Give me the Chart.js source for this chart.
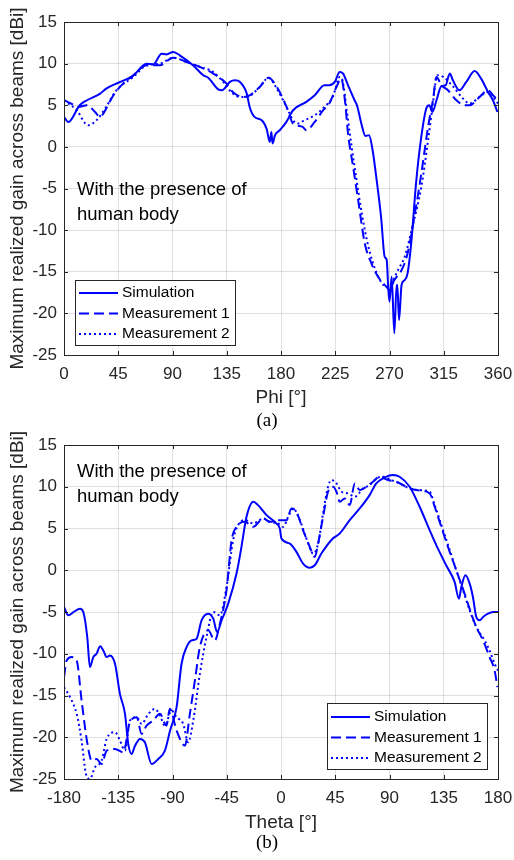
<!DOCTYPE html>
<html>
<head>
<meta charset="utf-8">
<script src="https://cdn.jsdelivr.net/npm/chart.js@4.4.1/dist/chart.umd.min.js"></script>
<style>
  body { margin: 0; background: #fff; }
  canvas { display: block; }
</style>
</head>
<body>
<canvas id="phiChart" width="514" height="430"></canvas>
<canvas id="thetaChart" width="514" height="430"></canvas>
<script>
// (a) gain vs phi
var phiSim = [0,3.6,13,19,30,35,45,57,68.5,74,81,85,90.6,96,107,115.5,119.6,128,131,137.6,141.7,146,151.6,154,158,164,168,170.7,172,173,175,179,184.5,190,201,208,216,220,224.6,228.7,231.5,235.6,241,243,247,250,253,256,259,263,266,267.7,268.9,270,271.8,274,275.9,276.5,277.9,280,282.6,285,288,292,296,300.5,303,305.5,309,313,316.5,320,322.6,328,333.7,340.6,346,351.7,355.8,359.5];
var gainSimPhi = [3.6,3.0,5.0,5.6,6.4,7.0,7.7,8.5,10,9.9,11.2,11.1,11.4,11.0,9.8,8.6,8.3,6.9,6.8,7.8,8.0,7.8,6.4,4.8,3.6,3.2,2.2,0.6,1.8,0.4,1.4,2.0,3.0,4.4,5.4,6.2,7.4,7.4,7.8,9.0,8.8,7.4,5.6,5.0,2.6,1.3,1.4,-0.4,-3.6,-8.4,-13.2,-13.6,-16.8,-18.6,-15.6,-22.4,-16.6,-16.6,-20.8,-16.6,-16.0,-15.2,-11.6,-4.4,0.8,4.6,5.0,4.2,5.6,7.3,7.4,8.8,8.0,6.8,7.8,9.1,8.2,6.6,5.6,4.2];

var phiMeas1 = [0,6,12,19,25.7,30,32.6,41,49,57.5,68.5,79.5,90.6,101.7,112.7,123.8,134.8,140,148.6,154,162.4,169.6,176.5,184.6,190,198,201,208,215,220,226,230,233,235.6,239.8,244,249.5,255,260.5,267.4,270,274,280,285,290.6,296.4,302,306,309,313,318.5,325.5,332.3,336.5,344.7,351.7,355.8,360];
var gainMeas1Phi = [5.6,5.2,4.8,5.0,4.2,3.6,4.0,6.2,7.6,8.6,9.8,9.8,10.7,10.2,9.6,8.8,7.6,6.6,6.0,6.2,7.2,8.3,7.2,4.8,2.8,2.4,2.0,3.0,4.4,5.2,7.2,8.2,5.6,1.6,-2.4,-6.4,-11.6,-14,-15.6,-16.8,-17.2,-16,-14.8,-12.8,-8.4,-3.2,2.4,5.6,8.4,7.4,6.8,5.6,5.0,5.0,6.0,6.8,6.2,5.6];

var phiMeas2 = [0,10.5,20,27,35,43.5,57.5,68.5,79.5,90.6,101.7,112.7,123.8,132,140,146,151.6,162.4,169.6,176.5,184.6,190,194,199.5,208,216,223,228.7,231,234.5,238.6,242.7,247,252.5,259.5,267.4,271.5,277,282.6,289,296.4,302,306,309.6,314.6,323,331,336.5,344.7,351.7,360];
var gainMeas2Phi = [5.6,4.4,2.6,3.2,4.8,6.8,8.4,9.8,10.0,10.7,10.2,9.6,9.0,7.8,6.4,6.0,6.0,7.2,8.3,7.0,4.8,3.2,2.8,3.2,3.8,4.8,6.0,8.4,8.0,4.4,0,-4,-8,-12,-15.2,-16.8,-16.4,-14.8,-13.2,-9.6,-4.8,0.8,5.2,8.6,8.4,7.2,5.8,5.2,6.0,6.6,5.2];

// (b) gain vs theta
var thetaSim = [-180,-176.4,-172,-166.7,-164,-160.7,-158.5,-155.7,-153,-150,-147.4,-144.6,-141.9,-137.7,-133.6,-129.4,-126.7,-124,-121,-117,-112.9,-107.3,-101.8,-96.3,-92,-86.6,-82.5,-78.3,-74.2,-70,-65.9,-60.4,-56.2,-53,-49.3,-43.8,-36.9,-32.8,-28.6,-23,-19,-12,-3.8,-1,0.4,7.3,12.8,18.3,23.9,28,33.5,43,48.7,57,65.3,73.5,79,84.6,92.9,98.4,106.7,115,123.3,128.8,137,144,147.6,149.6,153,156.5,159.2,162,164.8,167.6,171.7,175.9,180];
var gainSimTheta = [-4.4,-5.4,-5.0,-4.6,-5.0,-8,-11.6,-10.4,-10.0,-9.1,-9.6,-10.4,-10.2,-11.2,-14.8,-17.2,-20.8,-22.0,-21.0,-20.2,-20.6,-23.2,-22.6,-21.6,-19.2,-16.4,-11.2,-9.2,-8.4,-8.2,-6.0,-5.2,-5.8,-7.4,-6.0,-4.0,-0.4,2.8,6.4,8.2,7.8,6.6,5.6,5.0,3.8,3.2,2.2,0.8,0.3,0.6,2.0,3.8,4.4,6.0,7.4,9.0,10.4,11.0,11.4,11.2,10.0,7.6,4.8,3.0,0.6,-1.4,-3.4,-2.0,-0.6,-1.6,-3.2,-5.6,-6.0,-5.6,-5.2,-5.0,-5.0];

var thetaMeas1 = [-180,-177.8,-173.6,-169.5,-165.4,-161,-157,-153,-148.8,-144.6,-137.7,-130.8,-125.3,-119.7,-115.6,-111.5,-106,-100.4,-95,-92.2,-86.6,-79.7,-75.6,-71.4,-67.3,-60.4,-54.9,-50.7,-45.2,-41,-36.9,-30,-23,-14.8,-9.3,-2.3,1.8,4.6,8.7,12.8,18.3,23.9,28,30.8,34.9,39,43.2,46,48.7,52.9,57,61.2,65.3,70.8,76.3,81.9,88.8,95.7,104,112.3,123.3,127.5,131.6,138.5,145.4,152.3,157.8,162,167.6,173,177.2,179.5];
var gainMeas1Theta = [-12.8,-10.8,-10.4,-10.8,-15.6,-20.4,-22.8,-22.6,-23.2,-21.6,-21.4,-21.8,-18.2,-17.6,-19.6,-18.6,-18.0,-17.2,-18.6,-16.6,-19.2,-21.0,-17.2,-13.2,-9.2,-7.2,-8.4,-6.4,-2.4,3.6,5.2,5.8,5.2,6.2,5.8,6.0,6.0,6.0,7.4,7.0,4.8,2.8,1.6,3.2,6.4,9.4,10.0,9.4,8.2,8.6,7.8,10.4,9.6,10.0,10.6,11.2,10.8,10.6,10.0,9.6,9.2,7.6,5.8,2.8,0,-2.8,-5.2,-6.8,-8.4,-10.4,-12.0,-14.0];

var thetaMeas2 = [-180,-175,-169.5,-165.4,-161.8,-158.5,-154.3,-148.8,-144.6,-137.7,-133.6,-129.4,-125.3,-119.7,-115.6,-110,-104.6,-100.4,-96.3,-90.8,-86.6,-81.1,-77,-72.8,-67.3,-61.8,-56.2,-50.7,-45.2,-39.7,-35.6,-30,-23,-14.8,-9.3,-2.3,1.8,6,10.1,15.6,21.1,26.7,30.8,34.9,39,41.8,46,50.2,55.7,61.2,68.1,73.6,79.1,84.6,91.5,98.4,106.7,115,123.3,127.5,134.4,140,145.4,151,156.5,162,168.9,173,177.2,180];
var gainMeas2Theta = [-14.0,-15.2,-17.2,-20.4,-24.4,-25,-23.6,-22.8,-20.2,-19.4,-20.4,-21.6,-18.0,-17.6,-18.4,-17.2,-16.6,-17.4,-18.6,-16.8,-17.6,-18.4,-20.6,-18.0,-12.4,-8.0,-5.0,-5.4,-2.0,3.6,5.4,6.0,5.6,6.2,5.8,5.6,5.2,6.4,7.4,6.0,3.8,2.0,3.2,6.8,10.0,10.8,10.4,9.4,9.2,8.8,9.8,10.2,11.0,11.2,10.8,10.4,9.8,9.6,9.4,7.8,4.8,2.4,0,-2.4,-4.8,-6.8,-8.4,-9.6,-11.2,-12.0];

var seriesLabels = ['Simulation', 'Measurement 1', 'Measurement 2'];
var gainTicks = [-25, 15, 5];   // min, max, step

var BLUE = '#0000ff';
var INK = '#262626';
var FONT = '"Liberation Sans", Arial, Helvetica, sans-serif';

function pts(xs, ys) {
  return xs.map(function (x, i) { return { x: x, y: ys[i] }; });
}

// box, inward ticks, legend, note and caption, MATLAB style
var matlabBits = {
  id: 'matlabBits',
  afterDatasetsDraw: function (chart, args, o) {
    var ctx = chart.ctx, a = chart.chartArea;
    ctx.save();
    ctx.strokeStyle = INK;
    ctx.lineWidth = 1;
    ctx.beginPath();
    chart.scales.x.ticks.forEach(function (t) {
      var x = Math.round(chart.scales.x.getPixelForValue(t.value)) + 0.5;
      ctx.moveTo(x, a.bottom); ctx.lineTo(x, a.bottom - 4);
      ctx.moveTo(x, a.top); ctx.lineTo(x, a.top + 4);
    });
    chart.scales.y.ticks.forEach(function (t) {
      var y = Math.round(chart.scales.y.getPixelForValue(t.value)) + 0.5;
      ctx.moveTo(a.left, y); ctx.lineTo(a.left + 4, y);
      ctx.moveTo(a.right, y); ctx.lineTo(a.right - 4, y);
    });
    ctx.stroke();
    ctx.strokeRect(Math.round(a.left) + 0.5, Math.round(a.top) + 0.5,
      Math.round(a.right - a.left), Math.round(a.bottom - a.top));

    // legend
    var lg = o.legend;
    ctx.fillStyle = '#fff';
    ctx.fillRect(lg.x, lg.y, lg.w, lg.h);
    ctx.strokeStyle = INK;
    ctx.strokeRect(lg.x + 0.5, lg.y + 0.5, lg.w, lg.h);
    ctx.font = '15.5px ' + FONT;
    ctx.textBaseline = 'middle';
    chart.data.datasets.forEach(function (ds, i) {
      var y = lg.y + lg.row0 + i * lg.rowGap;
      ctx.strokeStyle = ds.borderColor;
      ctx.lineWidth = 2;
      ctx.setLineDash(ds.borderDash || []);
      ctx.beginPath();
      ctx.moveTo(lg.x + 4, y); ctx.lineTo(lg.x + 43, y);
      ctx.stroke();
      ctx.setLineDash([]);
      ctx.fillStyle = '#000';
      ctx.fillText(ds.label, lg.x + 47, y);
    });

    // note
    ctx.font = '18.5px ' + FONT;
    ctx.fillStyle = '#000';
    o.note.lines.forEach(function (s, i) {
      ctx.fillText(s, o.note.x, o.note.y + i * 25);
    });

    // caption
    ctx.font = '19px "Liberation Serif", "Times New Roman", serif';
    ctx.textAlign = 'center';
    ctx.fillText(o.caption.text, o.caption.x, o.caption.y);
    ctx.restore();
  }
};

function makeChart(id, xs, ys, xMin, xMax, xTitle, padTop, padBottom, xAxisH, extras) {
  var dashes = [[], [10, 5], [2, 3]];
  var datasets = seriesLabels.map(function (lab, i) {
    return {
      label: lab,
      data: pts(xs[i], ys[i]),
      borderColor: BLUE,
      borderWidth: 2,
      borderDash: dashes[i],
      pointRadius: 0,
      cubicInterpolationMode: 'monotone',
      fill: false
    };
  });
  return new Chart(document.getElementById(id), {
    type: 'line',
    data: { datasets: datasets },
    plugins: [matlabBits],
    options: {
      responsive: false,
      animation: false,
      events: [],
      layout: { padding: { left: 6, right: 16, top: padTop, bottom: padBottom } },
      plugins: {
        legend: { display: false },
        tooltip: { enabled: false },
        matlabBits: extras
      },
      scales: {
        x: {
          type: 'linear',
          min: xMin,
          max: xMax,
          afterFit: function (s) {
            s.height = xAxisH;
            s.paddingLeft = 0;
            s.paddingRight = 0;
          },
          ticks: { stepSize: 45, color: INK, padding: 9, maxRotation: 0, autoSkip: false,
                   font: { family: FONT, size: 17 } },
          grid: { color: 'rgba(0,0,0,0.12)', drawTicks: false },
          border: { color: INK },
          title: { display: true, text: xTitle, color: INK, padding: 0,
                   font: { family: FONT, size: 19 } }
        },
        y: {
          min: gainTicks[0],
          max: gainTicks[1],
          afterFit: function (s) {
            s.width = 58;
            s.paddingTop = 0;
            s.paddingBottom = 0;
          },
          ticks: { stepSize: gainTicks[2], color: INK, padding: 7,
                   font: { family: FONT, size: 17 } },
          grid: { color: 'rgba(0,0,0,0.12)', drawTicks: false },
          border: { color: INK },
          title: { display: true, text: 'Maximum realized gain across beams [dBi]', color: INK,
                   padding: 0, font: { family: FONT, size: 19 } }
        }
      }
    }
  });
}

makeChart('phiChart',
  [phiSim, phiMeas1, phiMeas2],
  [gainSimPhi, gainMeas1Phi, gainMeas2Phi],
  0, 360, 'Phi [°]', 22, 20.6, 54.4,
  {
    legend: { x: 75, y: 280, w: 160, h: 65, row0: 13, rowGap: 20.5 },
    note: { x: 77, y: 190, lines: ['With the presence of', 'human body'] },
    caption: { text: '(a)', x: 267, y: 421 }
  });

makeChart('thetaChart',
  [thetaSim, thetaMeas1, thetaMeas2],
  [gainSimTheta, gainMeas1Theta, gainMeas2Theta],
  -180, 180, 'Theta [°]', 15, 25.6, 55.4,
  {
    legend: { x: 327, y: 273, w: 160, h: 66, row0: 14, rowGap: 20.5 },
    note: { x: 77, y: 42, lines: ['With the presence of', 'human body'] },
    caption: { text: '(b)', x: 267, y: 413 }
  });
</script>
</body>
</html>
